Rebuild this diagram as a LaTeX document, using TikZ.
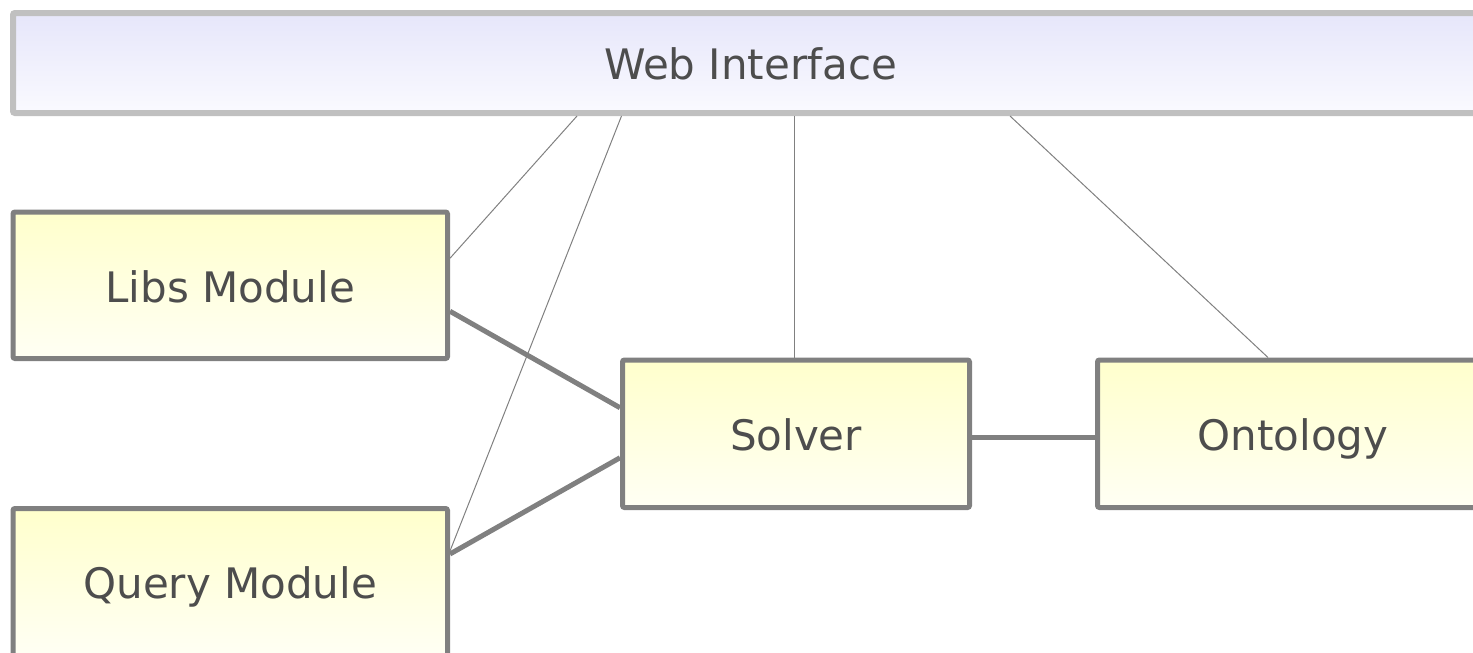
\documentclass[tikz,border=0pt]{standalone}
\usepackage{fontspec}
\setmainfont{DejaVu Sans}
\usetikzlibrary{calc}
\definecolor{txt}{RGB}{77,77,77}
\definecolor{boxgray}{RGB}{128,128,128}
\definecolor{webgray}{RGB}{192,192,192}
\definecolor{ylwtop}{RGB}{255,255,204}
\definecolor{ylwbot}{RGB}{255,255,244}
\definecolor{lavtop}{RGB}{230,230,250}
\definecolor{lavbot}{RGB}{250,250,255}
\begin{document}
\begin{tikzpicture}[x=0.5pt,y=-0.5pt,
  box/.style={draw=boxgray, line width=2.5pt, rounded corners=1pt,
    top color=ylwtop, bottom color=ylwbot, text=txt,
    font=\fontsize{21}{25}\selectfont, inner sep=0pt,
    text height=18.9pt, text depth=2.1pt},
  webbox/.style={draw=webgray, line width=3pt, rounded corners=1pt,
    top color=lavtop, bottom color=lavbot, text=txt,
    font=\fontsize{21}{25}\selectfont, inner sep=0pt,
    text height=18.9pt, text depth=2.1pt},
  thinlink/.style={draw=boxgray, line width=0.5pt},
  thicklink/.style={draw=boxgray, line width=2.5pt}]
\useasboundingbox (0,0) rectangle (1473,653);
\clip (0,0) rectangle (1473,653);
\node[webbox, minimum width=737.5pt, minimum height=50pt] (web) at (750.5,63) {Web Interface};
\node[box, minimum width=217.25pt, minimum height=73.25pt] (libs) at (230.25,285.25) {Libs Module};
\node[box, minimum width=217.25pt, minimum height=73.5pt] (query) at (230.25,582) {Query Module};
\node[box, minimum width=173.5pt, minimum height=73.75pt] (solver) at (796,433.75) {Solver};
\node[box, minimum width=195.5pt, minimum height=73.75pt] (onto) at (1293,433.75) {Ontology};
\draw[thinlink] ($(web.south)+(-173.5,0)$) -- ($(libs.east)+(0,-27)$);
\draw[thinlink] ($(web.south)+(-129,0)$) -- ($(query.east)+(0,-31)$);
\draw[thinlink] ($(web.south)+(43.5,0)$) -- ($(solver.north)+(-2,0)$);
\draw[thinlink] ($(web.south)+(259.5,0)$) -- ($(onto.north)+(-25,0)$);
\draw[thicklink] ($(libs.east)+(0,26)$) -- ($(solver.west)+(0,-26)$);
\draw[thicklink] ($(query.east)+(0,-28)$) -- ($(solver.west)+(0,24)$);
\draw[thicklink] ($(solver.east)+(0,4)$) -- ($(onto.west)+(0,4)$);
\end{tikzpicture}
\end{document}
